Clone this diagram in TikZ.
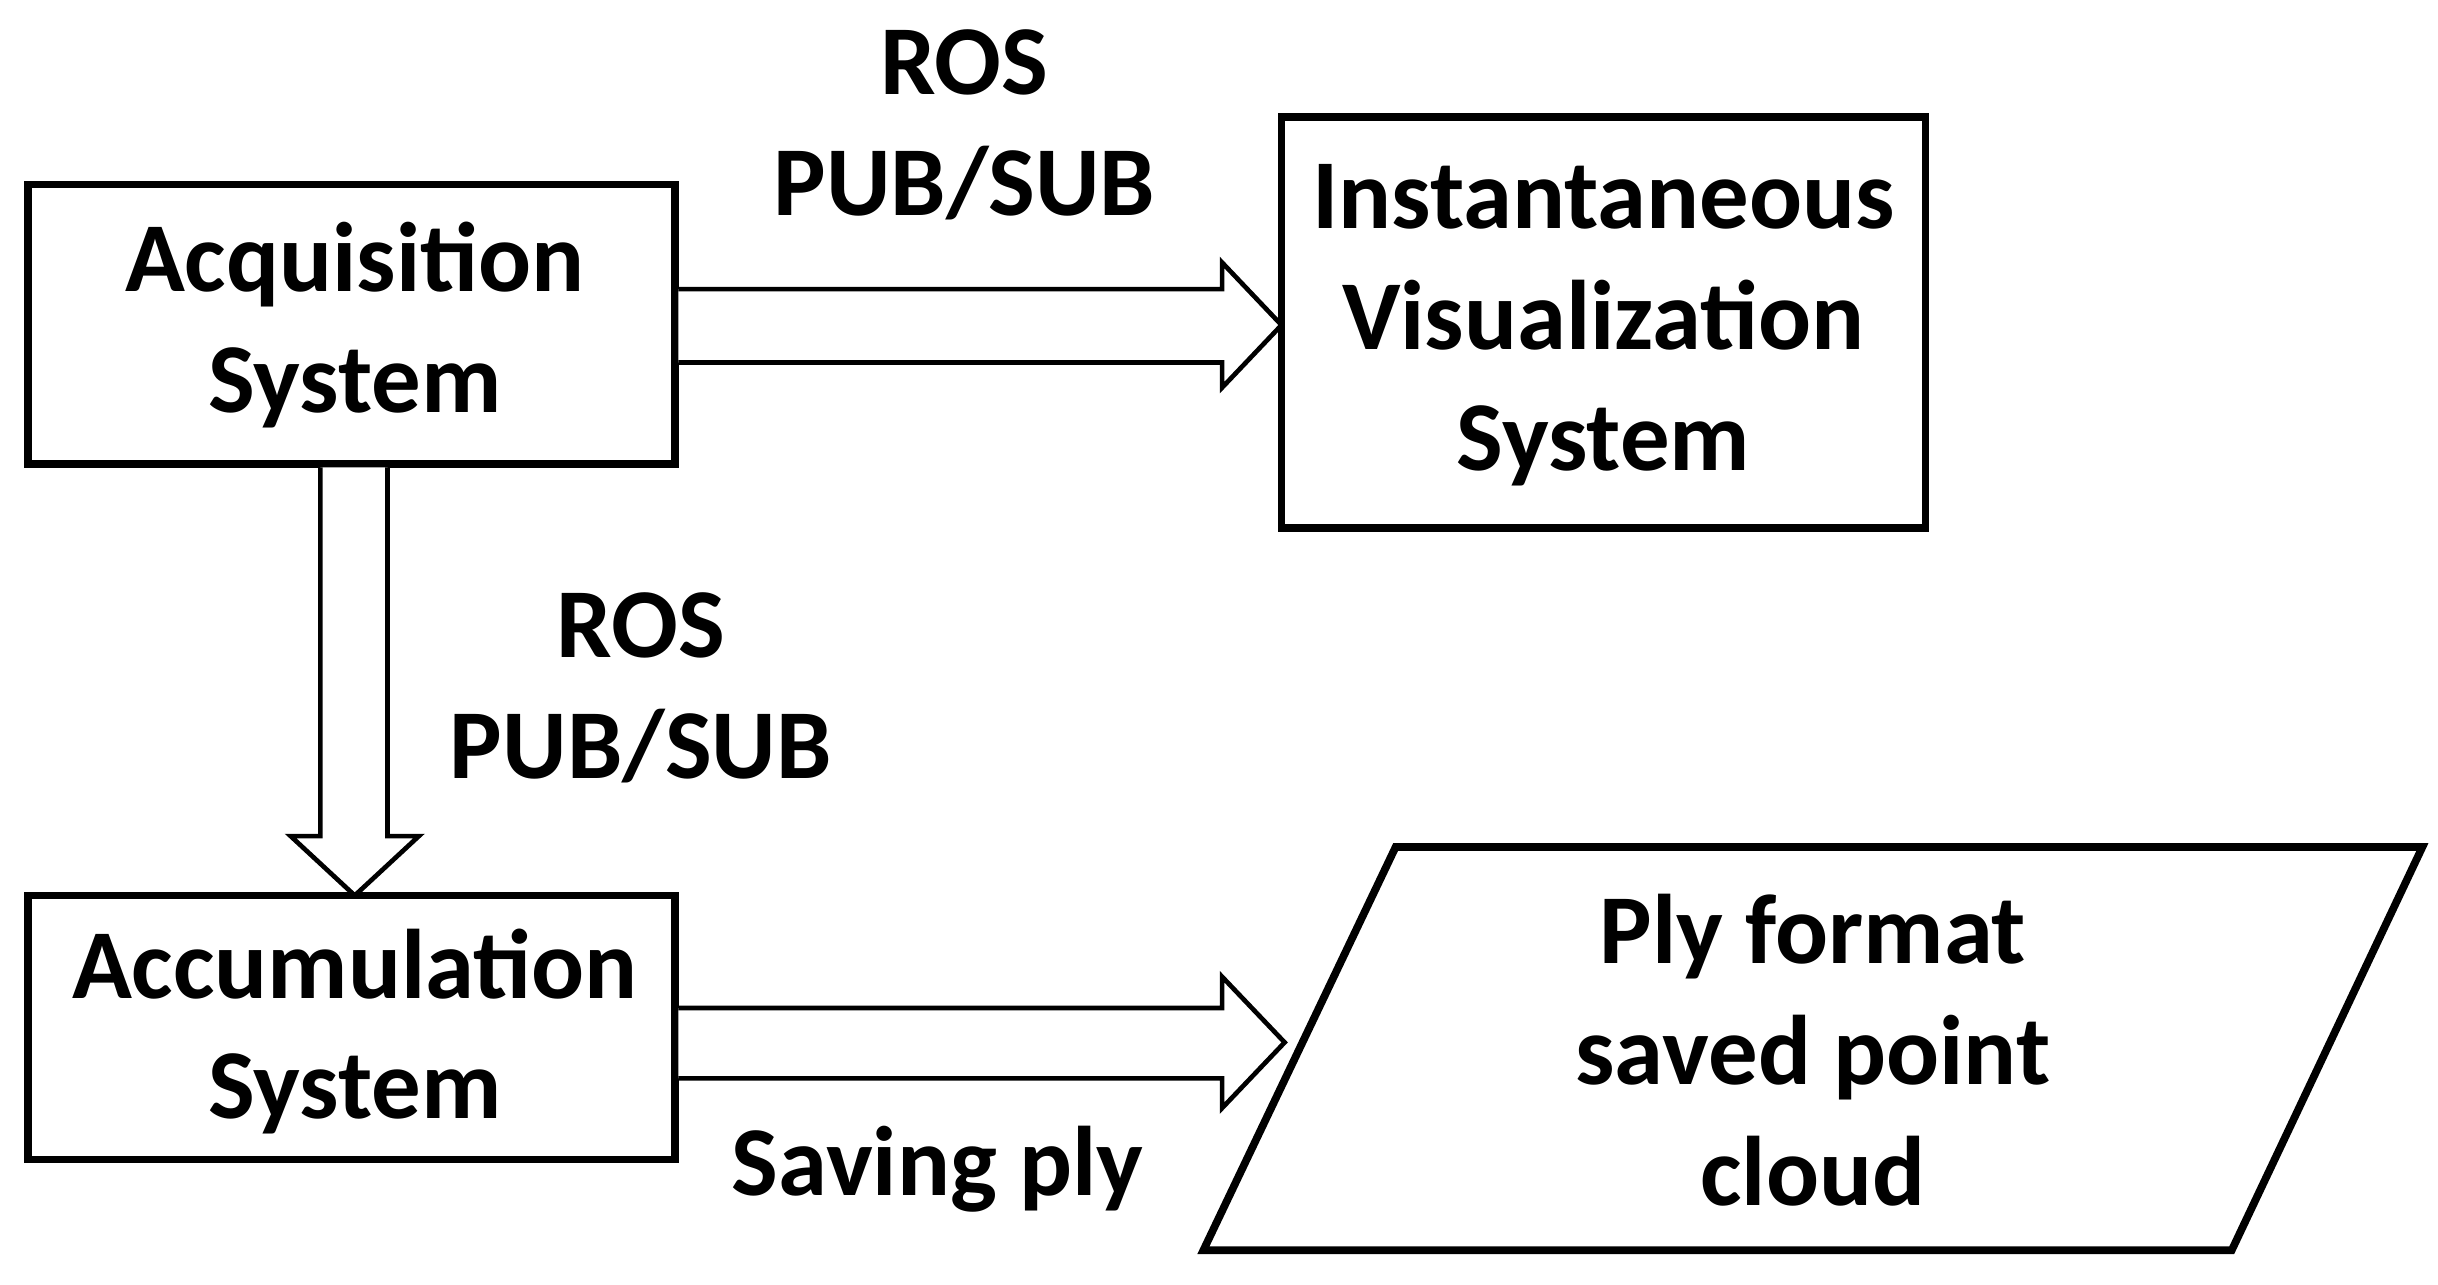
\documentclass[tikz,border=0pt]{standalone}
\usepackage{fontspec}
\setmainfont{Carlito}
\begin{document}
\begin{tikzpicture}[x=0.02cm,y=-0.02cm,
  box/.style={draw,line width=2.8pt},
  arr/.style={draw,line width=1.7pt,line join=miter,fill=white},
  lbl/.style={font=\bfseries\fontsize{36}{44}\selectfont,align=center}]
\useasboundingbox (0,0) rectangle (1560,822);
\draw[box] (18,118) rectangle (432,297);
\node[lbl] (acq) at (227,208) {Acquisition\\System};
\draw[box] (820,75) rectangle (1232,338);
\node[lbl] (inst) at (1026,208) {Instantaneous\\Visualization\\System};
\draw[box] (18,573) rectangle (432,742);
\node[lbl] (acc) at (227,660) {Accumulation\\System};
\draw[box] (893,542) -- (1550,542) -- (1428,800) -- (770,800) -- cycle;
\node[lbl] (ply) at (1160,672) {Ply format\\saved point\\cloud};
% arrows
\draw[arr] (434,185) -- (782,185) -- (782,168) -- (820,208) -- (782,248) -- (782,232) -- (434,232);
\draw[arr] (434,645) -- (782,645) -- (782,625) -- (822,667) -- (782,709) -- (782,690) -- (434,690);
\draw[arr] (205,299) -- (205,535) -- (186,535) -- (227,573) -- (268,535) -- (248,535) -- (248,299);
\node[lbl] (l1) at (617,80) {ROS\\PUB/SUB};
\node[lbl] (l2) at (410,440) {ROS\\PUB/SUB};
\node[lbl] (l3) at (600,748) {Saving ply};
\end{tikzpicture}
\end{document}
